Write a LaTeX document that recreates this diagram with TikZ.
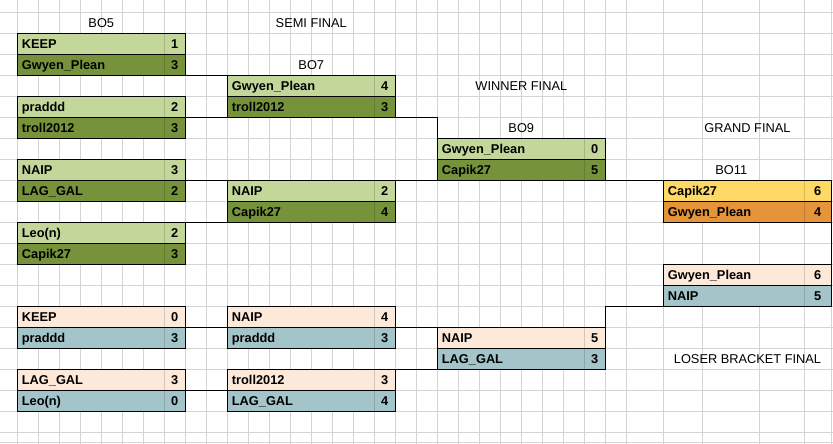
\documentclass[tikz,border=0pt]{standalone}
\usepackage{fontspec}
\setmainfont{Liberation Sans}
\definecolor{lgreen}{HTML}{C4D79B}
\definecolor{dgreen}{HTML}{76933C}
\definecolor{peach}{HTML}{FDE9D9}
\definecolor{bgrey}{HTML}{A3C4C8}
\definecolor{goldc}{HTML}{FFD966}
\definecolor{orngc}{HTML}{E6943A}
\definecolor{gridc}{HTML}{D4D4D4}
\newcommand\teamrow[7]{%
  \node[rowbox,fill=#6,anchor=north west] (#1) at (#2,#3) {};
  \draw[sepline] ([xshift=-#7pt]#1.north east) -- ([xshift=-#7pt]#1.south east);
  \node[nametext,anchor=base west] (#1-n) at ([xshift=4.4pt,yshift=6pt]#1.south west) {#4};
  \node[nametext,anchor=base] (#1-s) at ([xshift={-0.5*#7pt},yshift=6pt]#1.south east) {#5};
}
\begin{document}
\begin{tikzpicture}[x=1pt,y=-1pt,
  rowbox/.style={draw=black,line width=1pt,minimum width=168pt,minimum height=21pt,inner sep=0pt,outer sep=0pt},
  sepline/.style={draw=black,draw opacity=0.15,line width=0.8pt},
  nametext/.style={inner sep=0pt,font=\fontsize{12.8}{14}\selectfont\bfseries},
  headtext/.style={inner sep=0pt,anchor=base,font=\fontsize{12.8}{14}\selectfont},
  gridline/.style={draw=gridc,line width=0.9pt},
  conn/.style={draw=black,line width=1pt}]
\useasboundingbox (0,0) rectangle (833,444);
\fill[white] (0,0) rectangle (833,444);
% grid
\foreach \k in {0,...,29} {\draw[gridline] ({17.3+21*\k},0) -- ({17.3+21*\k},444);}
\foreach \xx in {663.3,702.3,759.3,804.3,831.7} {\draw[gridline] (\xx,0) -- (\xx,444);}
\foreach \k in {0,...,20} {\draw[gridline] (0,{12.3+21*\k}) -- (833,{12.3+21*\k});}
\draw[gridline] (0,442.7) -- (833,442.7);
% headers
\node[headtext] (hbo5) at (101.3,27.3) {BO5};
\node[headtext] (hsemi) at (311.3,27.3) {SEMI FINAL};
\node[headtext] (hbo7) at (311.3,69.3) {BO7};
\node[headtext] (hwin) at (521.3,90.3) {WINNER FINAL};
\node[headtext] (hbo9) at (521.3,132.3) {BO9};
\node[headtext] (hgrand) at (747.5,132.3) {GRAND FINAL};
\node[headtext] (hbo11) at (731.3,174.3) {BO11};
\node[headtext] (hloser) at (747.5,363.3) {LOSER BRACKET FINAL};
% round 1
\teamrow{a1a}{17.3}{33.3}{KEEP}{1}{lgreen}{21}
\teamrow{a1b}{17.3}{54.3}{Gwyen\_Plean}{3}{dgreen}{21}
\teamrow{a2a}{17.3}{96.3}{praddd}{2}{lgreen}{21}
\teamrow{a2b}{17.3}{117.3}{troll2012}{3}{dgreen}{21}
\teamrow{a3a}{17.3}{159.3}{NAIP}{3}{lgreen}{21}
\teamrow{a3b}{17.3}{180.3}{LAG\_GAL}{2}{dgreen}{21}
\teamrow{a4a}{17.3}{222.3}{Leo(n)}{2}{lgreen}{21}
\teamrow{a4b}{17.3}{243.3}{Capik27}{3}{dgreen}{21}
\teamrow{a5a}{17.3}{306.3}{KEEP}{0}{peach}{21}
\teamrow{a5b}{17.3}{327.3}{praddd}{3}{bgrey}{21}
\teamrow{a6a}{17.3}{369.3}{LAG\_GAL}{3}{peach}{21}
\teamrow{a6b}{17.3}{390.3}{Leo(n)}{0}{bgrey}{21}
% round 2
\teamrow{b1a}{227.3}{75.3}{Gwyen\_Plean}{4}{lgreen}{21}
\teamrow{b1b}{227.3}{96.3}{troll2012}{3}{dgreen}{21}
\teamrow{b2a}{227.3}{180.3}{NAIP}{2}{lgreen}{21}
\teamrow{b2b}{227.3}{201.3}{Capik27}{4}{dgreen}{21}
\teamrow{b3a}{227.3}{306.3}{NAIP}{4}{peach}{21}
\teamrow{b3b}{227.3}{327.3}{praddd}{3}{bgrey}{21}
\teamrow{b4a}{227.3}{369.3}{troll2012}{3}{peach}{21}
\teamrow{b4b}{227.3}{390.3}{LAG\_GAL}{4}{bgrey}{21}
% winner final and loser final
\teamrow{c1a}{437.3}{138.3}{Gwyen\_Plean}{0}{lgreen}{21}
\teamrow{c1b}{437.3}{159.3}{Capik27}{5}{dgreen}{21}
\teamrow{lfa}{437.3}{327.3}{NAIP}{5}{peach}{21}
\teamrow{lfb}{437.3}{348.3}{LAG\_GAL}{3}{bgrey}{21}
% grand final
\teamrow{d1a}{663.3}{180.3}{Capik27}{6}{goldc}{27.2}
\teamrow{d1b}{663.3}{201.3}{Gwyen\_Plean}{4}{orngc}{27.2}
\teamrow{d2a}{663.3}{264.3}{Gwyen\_Plean}{6}{peach}{27.2}
\teamrow{d2b}{663.3}{285.3}{NAIP}{5}{bgrey}{27.2}
% connectors
\draw[conn] (a1b.south east) -- (b1a.north west);
\draw[conn] (a2a.south east) -- (a2a.south east -| c1a.north west) -- (c1a.north west);
\draw[conn] (a3a.south east) -- (c1b.south west);
\draw[conn] (a4a.north east) -- (b2b.south west);
\draw[conn] (c1b.south east) -- (d1a.north west);
\draw[conn] (d1b.south east) -- (d2a.north east);
\draw[conn] (d2b.south west) -- (d2b.south west -| lfa.north east) -- (lfa.north east);
\draw[conn] (a5a.south east) -- (b3a.south west);
\draw[conn] (b3a.south east) -- (lfa.north west);
\draw[conn] (a6a.south east) -- (b4a.south west);
\draw[conn] (b4a.north east) -- (lfb.south west);
\end{tikzpicture}
\end{document}
